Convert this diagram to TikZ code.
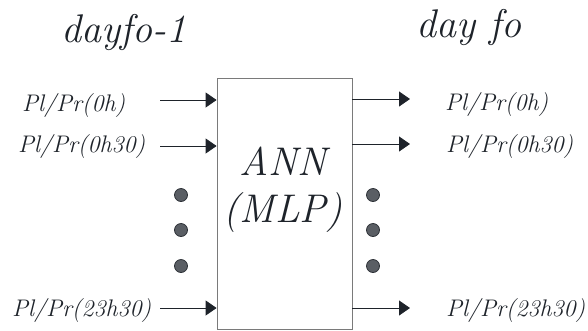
\documentclass[tikz,border=0pt]{standalone}
\usepackage{fontspec}
\usetikzlibrary{arrows.meta,positioning}
\definecolor{inkdark}{HTML}{1E232A}
\definecolor{boxline}{HTML}{7A7A7A}
\definecolor{dotfill}{HTML}{5A5E64}
\definecolor{dotline}{HTML}{2E3238}

\begin{document}
\begin{tikzpicture}[
  x=1pt, y=-1pt,
  ttl/.style  = {font=\itshape\fontsize{40}{46}\selectfont, text=inkdark,
                 inner sep=0pt, anchor=base},
  sig/.style  = {font=\itshape\fontsize{24}{28}\selectfont, text=inkdark,
                 inner sep=0pt, anchor=base west},
  net/.style  = {draw=boxline, line width=0.8pt, minimum width=135pt,
                 minimum height=251pt, inner sep=0pt},
  netlbl/.style = {align=center, inner sep=0pt,
                 font=\itshape\fontsize{40}{47}\selectfont, text=inkdark},
  ln/.style   = {-{Triangle[length=11pt, width=15pt]}, draw=inkdark, line width=0.9pt},
  ellip/.style = {circle, draw=dotline, fill=dotfill, line width=0.8pt,
                 minimum size=13pt, inner sep=0pt},
]
\useasboundingbox (0,0) rectangle (588,330);

% --- titles and the network --------------------------------------------------------------------
\node[ttl] (prev) at (123.5,42) {dayfo-1};
\node[ttl] (next) at (468.5,37) {day fo};
\node[net] (ann) at (284.5,203.5) {};
\node[netlbl] (annt) at (283,190) {ANN\\(MLP)};

% --- inputs ------------------------------------------------------------------------------------
\coordinate (i1) at (160,100);
\coordinate (i2) at (160,146);
\coordinate (i3) at (160,308);
\node[sig] (pin1) at (22,111) {Pl/Pr(0h)};
\node[sig] (pin2) at (18,152) {Pl/Pr(0h30)};
\node[sig] (pin3) at (12,316) {Pl/Pr(23h30)};
\foreach \k in {1,2,3}
  \draw[ln] (i\k) -- (ann.west |- i\k);

% --- outputs -----------------------------------------------------------------------------------
\coordinate (o1) at (410,99);
\coordinate (o2) at (410,144);
\coordinate (o3) at (410,308);
\node[sig] (pout1) at (445,110) {Pl/Pr(0h)};
\node[sig] (pout2) at (446,152) {Pl/Pr(0h30)};
\node[sig] (pout3) at (446,316) {Pl/Pr(23h30)};
\foreach \k in {1,2,3}
  \draw[ln] (ann.east |- o\k) -- (o\k);

% --- the dots ----------------------------------------------------------------------------------
\foreach \y in {195,230,266} {
  \node[ellip] (l\y) at (181,\y) {};
  \node[ellip] (r\y) at (373,\y) {};
}

\end{tikzpicture}
\end{document}
